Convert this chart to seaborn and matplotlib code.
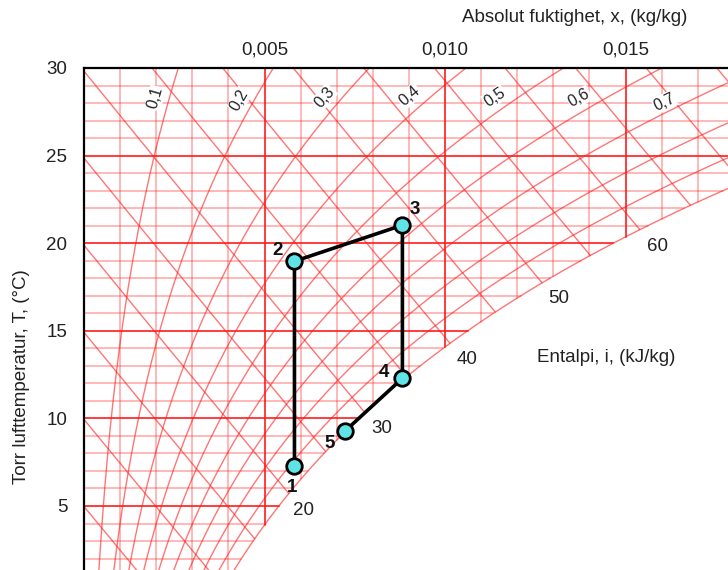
import numpy as np
import pandas as pd
import matplotlib
matplotlib.use("Agg")
import matplotlib.pyplot as plt
import seaborn as sns

# ---------------- data ----------------
point_labels = ["1", "2", "3", "4", "5"]
point_x = [0.00583, 0.00583, 0.00882, 0.00882, 0.00722]   # kg/kg
point_T = [7.26, 18.97, 21.03, 12.29, 9.26]               # °C

x_ticks = [0.005, 0.010, 0.015]
x_tick_labels = ["0,005", "0,010", "0,015"]
y_ticks = [5, 10, 15, 20, 25, 30]
y_tick_labels = ["5", "10", "15", "20", "25", "30"]

# chart grid definitions
x_grid = [0.001, 0.002, 0.003, 0.004, 0.005, 0.006, 0.007, 0.008, 0.009, 0.010,
          0.011, 0.012, 0.013, 0.014, 0.015, 0.016, 0.017, 0.018]
x_grid_major = [0.005, 0.010, 0.015]
T_grid = [1, 2, 3, 4, 5, 6, 7, 8, 9, 10, 11, 12, 13, 14, 15, 16, 17, 18, 19,
          20, 21, 22, 23, 24, 25, 26, 27, 28, 29]
T_grid_major = [5, 10, 15, 20, 25]
rh_values = [0.1, 0.2, 0.3, 0.4, 0.5, 0.6, 0.7, 0.8, 0.9, 1.0]
enthalpy_values = [0, 5, 10, 15, 20, 25, 30, 35, 40, 45, 50, 55, 60, 65, 70, 75, 80]

rh_label_text = ["0,1", "0,2", "0,3", "0,4", "0,5", "0,6", "0,7"]
rh_label_phi = [0.1, 0.2, 0.3, 0.4, 0.5, 0.6, 0.7]
rh_label_x = [0.00198, 0.00431, 0.00666, 0.00902, 0.01137, 0.01372, 0.01608]
rh_label_T = [28.29, 28.17, 28.34, 28.40, 28.34, 28.29, 28.06]

enthalpy_label_text = ["20", "30", "40", "50", "60"]
enthalpy_label_x = [0.00608, 0.00824, 0.01060, 0.01314, 0.01589]
enthalpy_label_T = [4.74, 9.43, 13.34, 16.83, 19.83]

# ---------------- psychrometric relations ----------------
P = 101.325


def p_sat(T):
    return 0.61094 * np.exp(17.625 * T / (T + 243.04))


def x_of(T, phi):
    ps = phi * p_sat(T)
    return 0.622 * ps / (P - ps)


def T_dew(x):
    ps = x * P / (0.622 + x)
    a = np.log(ps / 0.61094)
    return 243.04 * a / (17.625 - a)


# ---------------- figure ----------------
sns.set_theme(style="white")
plt.rcParams["font.family"] = ["Liberation Sans", "DejaVu Sans"]

W, H = 728, 570
fig = plt.figure(figsize=(W / 100, H / 100), dpi=100)
ax = fig.add_axes([84 / W, 0, 1 - 84 / W, 1 - 68 / H])
x_max = 644 / 36100.0
T_min = 30 - 502 / 17.52
ax.set_xlim(0, x_max)
ax.set_ylim(T_min, 30)

red = "#ff1a1a"

# horizontal temperature lines (clipped at saturation)
for T in T_grid:
    major = T in T_grid_major
    ax.plot([0, x_of(T, 1.0)], [T, T], color=red,
            alpha=0.85 if major else 0.4, lw=1.4 if major else 1.1, zorder=1)

# vertical humidity lines (from dew point upward)
for xv in x_grid:
    major = any(abs(xv - m) < 1e-9 for m in x_grid_major)
    ax.plot([xv, xv], [T_dew(xv), 30], color=red,
            alpha=0.85 if major else 0.4, lw=1.4 if major else 1.1, zorder=1)

# relative humidity curves
Ts = np.linspace(-2, 32, 400)
for phi in rh_values:
    ax.plot(x_of(Ts, phi), Ts, color=red, alpha=0.6, lw=1.0, zorder=1)

# enthalpy lines (clipped at saturation)
xs = np.linspace(0, 0.025, 4000)
for i in enthalpy_values:
    Tl = (i - 2501 * xs) / (1.006 + 1.86 * xs)
    ok = xs <= x_of(Tl, 1.0)
    ax.plot(xs[ok], Tl[ok], color=red, alpha=0.6, lw=1.0, zorder=1)

# RH labels (rotated along curves)
for txt, phi, lx, lT in zip(rh_label_text, rh_label_phi, rh_label_x, rh_label_T):
    p1 = ax.transData.transform((x_of(lT - 0.5, phi), lT - 0.5))
    p2 = ax.transData.transform((x_of(lT + 0.5, phi), lT + 0.5))
    ang = np.degrees(np.arctan2(p2[1] - p1[1], p2[0] - p1[0]))
    ax.text(lx, lT, txt, rotation=ang,
            ha="center", va="center", fontsize=11.5, color="#222222", zorder=3,
            bbox=dict(facecolor="white", edgecolor="none", pad=0.6))

# enthalpy labels
for txt, lx, lT in zip(enthalpy_label_text, enthalpy_label_x, enthalpy_label_T):
    ax.text(lx, lT, txt, ha="center", va="center", fontsize=13.5, color="#222222", zorder=3)

# process path and points
df = pd.DataFrame({"x": point_x, "T": point_T, "label": point_labels})
sns.lineplot(data=df, x="x", y="T", sort=False, estimator=None, color="black",
             lw=2.6, ax=ax, zorder=4)
sns.scatterplot(data=df, x="x", y="T", s=125, color="#5fe3e6", edgecolor="black",
                linewidth=2.0, ax=ax, zorder=5)
label_offsets = [(-2, -21), (-17, 11), (12, 16), (-18, 6), (-15, -12)]
for (lbl, px, pT), off in zip(zip(point_labels, point_x, point_T), label_offsets):
    ax.annotate(lbl, (px, pT), xytext=off, textcoords="offset pixels",
                ha="center", va="center", fontsize=13.5, fontweight="bold",
                color="#111111", zorder=6)

# axes styling
ax.set_xlabel("")
ax.set_ylabel("")
ax.xaxis.tick_top()
ax.set_xticks(x_ticks)
ax.set_xticklabels(x_tick_labels)
ax.set_yticks(y_ticks)
ax.set_yticklabels(y_tick_labels)
ax.tick_params(axis="x", length=0, pad=7, labelsize=13.5, colors="#222222")
ax.tick_params(axis="y", length=0, pad=12, labelsize=13.5, colors="#222222")
for s in ["right", "bottom"]:
    ax.spines[s].set_visible(False)
for s in ["top", "left"]:
    ax.spines[s].set_visible(True)
    ax.spines[s].set_color("black")
    ax.spines[s].set_linewidth(1.6)
    ax.spines[s].set_zorder(7)
ax.grid(False)
ax.set_facecolor("white")

fig.text(575 / W, 1 - 18 / H, "Absolut fuktighet, x, (kg/kg)", ha="center", va="center",
         fontsize=13.5, color="#222222")
fig.text(606 / W, 1 - 357 / H, "Entalpi, i, (kJ/kg)", ha="center", va="center",
         fontsize=13.5, color="#222222")
fig.text(22 / W, 1 - 377 / H, "Torr lufttemperatur, T, (°C)", ha="center", va="center",
         rotation=90, fontsize=13.5, color="#222222")

fig.savefig("out.png", dpi=100)
